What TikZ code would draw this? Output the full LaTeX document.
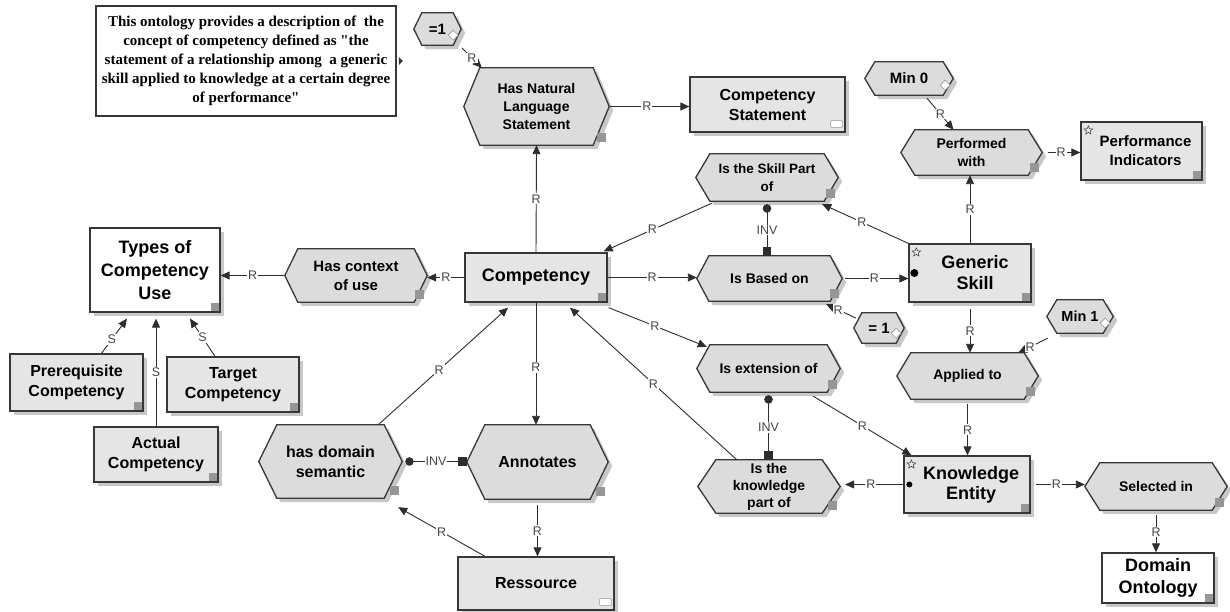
\documentclass[tikz,border=0pt]{standalone}
\usepackage{fontspec}
\setmainfont{Liberation Sans}
\newfontfamily\notefont{Liberation Serif}
\usetikzlibrary{arrows.meta,shadows,backgrounds,shapes.geometric,calc}
\definecolor{boxfill}{RGB}{229,229,229}
\definecolor{hexfill}{RGB}{220,220,220}
\definecolor{shadowc}{RGB}{200,200,200}
\definecolor{sqc}{RGB}{150,150,150}
\definecolor{edgec}{RGB}{55,55,55}
\definecolor{linec}{RGB}{45,45,45}
\definecolor{labc}{RGB}{70,70,70}
\newcommand\fsz[2]{\fontsize{#1}{#2}\selectfont}
\tikzset{
 sz/.style 2 args={minimum width=#1pt, minimum height=#2pt},
 f/.style 2 args={font=\bfseries\fsz{#1}{#2}},
 rbox/.style={draw=edgec, line width=1.3pt, fill=boxfill, align=center, inner sep=0pt,
   drop shadow={shadow xshift=4pt, shadow yshift=-4pt, fill=shadowc, opacity=1}},
 wbox/.style={rbox, fill=white},
 hexn/.style={align=center, inner sep=0pt},
 hexs/.style={draw=edgec, line width=1.3pt, fill=hexfill},
 rel/.style={draw=linec, line width=0.9pt, -{Triangle[length=9pt,width=8pt]}},
 inv/.style={draw=linec, line width=0.9pt, {Circle[length=8.5pt]}-{Square[length=8.5pt]}},
 lab/.style={fill=white, inner sep=1pt, text=labc, font=\fsz{12.5}{14}},
 staricon/.style={star, star points=5, star point ratio=2.2, draw=edgec, line width=0.5pt, minimum size=9pt, inner sep=0pt},
}
\newcommand\hexshape[2]{%
  \fill[shadowc] ([shift={(4,4)}]#1.west) -- ([shift={(4+#2,4)}]#1.north west) -- ([shift={(4-#2,4)}]#1.north east) -- ([shift={(4,4)}]#1.east) -- ([shift={(4-#2,4)}]#1.south east) -- ([shift={(4+#2,4)}]#1.south west) -- cycle;
  \path[hexs] (#1.west) -- ([xshift=#2]#1.north west) -- ([xshift=-#2]#1.north east) -- (#1.east) -- ([xshift=-#2]#1.south east) -- ([xshift=#2]#1.south west) -- cycle;}
\newcommand\hexa[2]{%
 \begin{scope}[on background layer]
  \hexshape{#1}{#2}
  \fill[sqc] ([shift={(-12,-12)}]#1.south east) rectangle ([shift={(-3,-3)}]#1.south east);
 \end{scope}}
\newcommand\hexb[2]{%
 \begin{scope}[on background layer]
  \hexshape{#1}{#2}
  \draw[sqc, fill=white, line width=0.6pt] ([shift={(-8,-15)}]#1.south east) -- ++(5,5) -- ++(-5,5) -- ++(-5,-5) -- cycle;
 \end{scope}}
\newcommand\rsq[1]{\fill[sqc] ([shift={(-10,-10)}]#1.south east) rectangle ([shift={(-2,-2)}]#1.south east);}
\newcommand\folder[1]{\draw[sqc, fill=white, line width=0.6pt, rounded corners=1pt] ([shift={(-15,-12)}]#1.south east) rectangle ([shift={(-3,-5)}]#1.south east);}

\begin{document}
\begin{tikzpicture}[x=1pt,y=-1pt]
\useasboundingbox (0,0) rectangle (1230,612);

% comment
\node[draw=edgec, line width=1.5pt, fill=white, sz={300}{110}, align=center, inner sep=0pt,
  font=\notefont\bfseries\fsz{15}{19}] (note) at (246,61)
  {This ontology provides a description of\ \ the\\concept of competency defined as "the\\statement of a relationship among\ \ a generic\\skill applied to knowledge at a certain degree\\of performance"};
\fill[edgec] ([shift={(2,-4)}]note.east) -- ++(4,4) -- ++(-4,4) -- cycle;

% hexagon nodes
\node[hexn, sz={47}{32}, f={15}{17}] (eqa) at (437.5,29) {=1};
\hexb{eqa}{8}
\node[hexn, sz={145}{77}, f={14}{18}] (hns) at (536.5,106.5) {Has Natural\\Language\\Statement};
\hexa{hns}{16}
\node[hexn, sz={88}{33}, f={15}{17}] (min0) at (909,78.5) {Min 0};
\hexb{min0}{10}
\node[hexn, sz={141}{45}, f={14}{18}] (perfw) at (971.5,152.5) {Performed\\with};
\hexa{perfw}{14}
\node[hexn, sz={142}{47}, f={13.5}{18}] (skp) at (767,177.5) {Is the Skill Part\\of};
\hexa{skp}{14}
\node[hexn, sz={145}{45}, f={14}{17}] (based) at (769.5,278.5) {Is Based on};
\hexa{based}{12}
\node[hexn, sz={50}{30}, f={15}{17}] (eqb) at (879,328) {= 1};
\hexb{eqb}{8}
\node[hexn, sz={142}{53}, f={15}{19}] (ctx) at (356,275.5) {Has context\\of use};
\hexa{ctx}{13}
\node[hexn, sz={143}{73}, f={16}{20}] (hds) at (330.5,461.5) {has domain\\semantic};
\hexa{hds}{18}
\node[hexn, sz={141}{74}, f={16}{19}] (annot) at (537.5,462) {Annotates};
\hexa{annot}{18}
\node[hexn, sz={143}{47}, f={14}{17}] (ext) at (768.5,368.5) {Is extension of};
\hexa{ext}{13}
\node[hexn, sz={142}{53}, f={14}{17}] (kpart) at (769,486.5) {Is the\\knowledge\\part of};
\hexa{kpart}{18}
\node[hexn, sz={141}{46}, f={14}{17}] (applied) at (967.5,376) {Applied to};
\hexa{applied}{14}
\node[hexn, sz={66}{33}, f={14.5}{17}] (min1) at (1080,316.5) {Min 1};
\hexb{min1}{10}
\node[hexn, sz={142}{47}, f={14}{17}] (selin) at (1156,486.5) {Selected in};
\hexa{selin}{15}

% rectangle nodes
\node[rbox, sz={155}{55}, f={16}{20}] (cstat) at (767.5,104.5) {Competency\\Statement};
\folder{cstat}
\node[rbox, sz={121}{58}, f={15}{19}] (perfind) at (1141.5,151) {\hspace*{8pt}Performance\\\hspace*{8pt}Indicators};
\rsq{perfind}
\node[staricon] (pistar) at ([shift={(8,9)}]perfind.north west) {};
\node[rbox, sz={122}{58}, f={18}{21}] (gskill) at (970,273) {\hspace*{10pt}Generic\\\hspace*{10pt}Skill};
\rsq{gskill}
\node[staricon] (gsstar) at ([shift={(8,9)}]gskill.north west) {};
\fill[black] ([xshift=6]gskill.west) circle (4);
\node[rbox, sz={142}{49}, f={18}{21}] (comp) at (536,277.5) {Competency};
\rsq{comp}
\node[wbox, sz={130}{84}, f={18}{23}] (types) at (155,270) {Types of\\Competency\\Use};
\rsq{types}
\node[rbox, sz={133}{57}, f={16}{19.5}] (prereq) at (76.5,382.5) {Prerequisite\\Competency};
\rsq{prereq}
\node[rbox, sz={132}{55}, f={16}{19.5}] (target) at (233,384.5) {Target\\Competency};
\rsq{target}
\node[rbox, sz={124}{55}, f={16}{19.5}] (actual) at (156,454.5) {Actual\\Competency};
\rsq{actual}
\node[rbox, sz={156}{53}, f={16}{19}] (ress) at (536,583.5) {Ressource};
\folder{ress}
\node[rbox, sz={126}{57}, f={18}{20}] (kent) at (967,484.5) {\hspace*{8pt}Knowledge\\\hspace*{8pt}Entity};
\rsq{kent}
\node[staricon] (kestar) at ([shift={(8,9)}]kent.north west) {};
\fill[black] ([xshift=6]kent.west) circle (3);
\node[wbox, sz={112}{50}, f={18}{22}] (domont) at (1158,578) {Domain\\Ontology};
\rsq{domont}

% connectors
\draw[rel] ([shift={(1,3)}]eqa.south east) -- node[lab]{R} ([xshift=18]hns.north west);
\draw[rel] (hns.east) -- node[lab,pos=0.47]{R} (hns.east -| cstat.west);
\draw[rel] (comp.north) -- node[lab]{R} (hns.south);
\draw[rel] ([shift={(18,3)}]min0.south) -- node[lab]{R} ([xshift=-18]perfw.north);
\draw[rel] ([xshift=6]perfw.east) -- node[lab,pos=0.4]{R} (perfw.east -| perfind.west);
\draw[rel] (gskill.north) -- node[lab]{R} (gskill.north |- perfw.south);
\draw[rel] (gskill.north west) -- node[lab,pos=0.54]{R} ([shift={(-16,3)}]skp.south east);
\draw[rel] ([shift={(16,2)}]skp.south west) -- node[lab,pos=0.55]{R} ([shift={(-4,-1)}]comp.north east);
\draw[inv] ([shift={(0,3)}]skp.south) -- node[lab]{INV} (skp.south |- based.north);
\draw[rel] (comp.east) -- node[lab]{R} (comp.east -| based.west);
\draw[rel] ([xshift=3]based.east) -- node[lab,pos=0.46]{R} (based.east -| gskill.west);
\draw[rel] ([shift={(2,-10)}]eqb.west) -- node[lab,pos=0.6]{R} ([shift={(-16,3)}]based.south east);
\draw[rel] (comp.west) -- node[lab]{R} (comp.west -| ctx.east);
\draw[rel] (ctx.west) -- node[lab]{R} (ctx.west -| types.east);
\draw[rel] ([xshift=25]prereq.north) -- node[lab,pos=0.4]{S} ([shift={(-28,6)}]types.south);
\draw[rel] (actual.north) -- node[lab]{S} ($(actual.north |- types.south)+(0,6)$);
\draw[rel] ([xshift=-18]target.north) -- node[lab]{S} ([shift={(35,6)}]types.south);
\draw[rel] ([xshift=-24]hds.north east) -- node[lab,pos=0.47]{R} ([shift={(-28,5)}]comp.south);
\draw[rel] (comp.south) -- node[lab,pos=0.53]{R} (comp.south |- annot.north);
\draw[inv] ([xshift=3]hds.east) -- node[lab]{INV} (hds.east -| annot.west);
\draw[rel] ([shift={(0,6)}]annot.south) -- node[lab]{R} (annot.south |- ress.north);
\draw[rel] ([xshift=-51]ress.north) -- node[lab]{R} ([shift={(-4,9)}]hds.south east);
\draw[rel] ([shift={(1,5)}]comp.south east) -- node[lab,pos=0.47]{R} ([shift={(10,2)}]ext.north west);
\draw[rel] ([xshift=39]kpart.north west) -- node[lab]{R} ([shift={(34,5)}]comp.south);
\draw[inv] ([shift={(0,3)}]ext.south) -- node[lab]{INV} (ext.south |- kpart.north);
\draw[rel] (kent.west) -- node[lab,pos=0.56]{R} ($(kent.west -| kpart.east)+(5,0)$);
\draw[rel] ([shift={(-27,4)}]ext.south east) -- node[lab]{R} ([xshift=8]kent.north west);
\draw[rel] ([shift={(0,6)}]gskill.south) -- node[lab]{R} (gskill.south |- applied.north);
\draw[rel] ([shift={(1,5)}]min1.south west) -- node[lab,pos=0.6]{R} ([xshift=-20]applied.north east);
\draw[rel] ([shift={(0,5)}]applied.south) -- node[lab]{R} (applied.south |- kent.north);
\draw[rel] ([xshift=5]kent.east) -- node[lab,pos=0.42]{R} (kent.east -| selin.west);
\draw[rel] ([shift={(0,5)}]selin.south) -- node[lab,pos=0.45]{R} (selin.south |- domont.north);
\end{tikzpicture}
\end{document}
